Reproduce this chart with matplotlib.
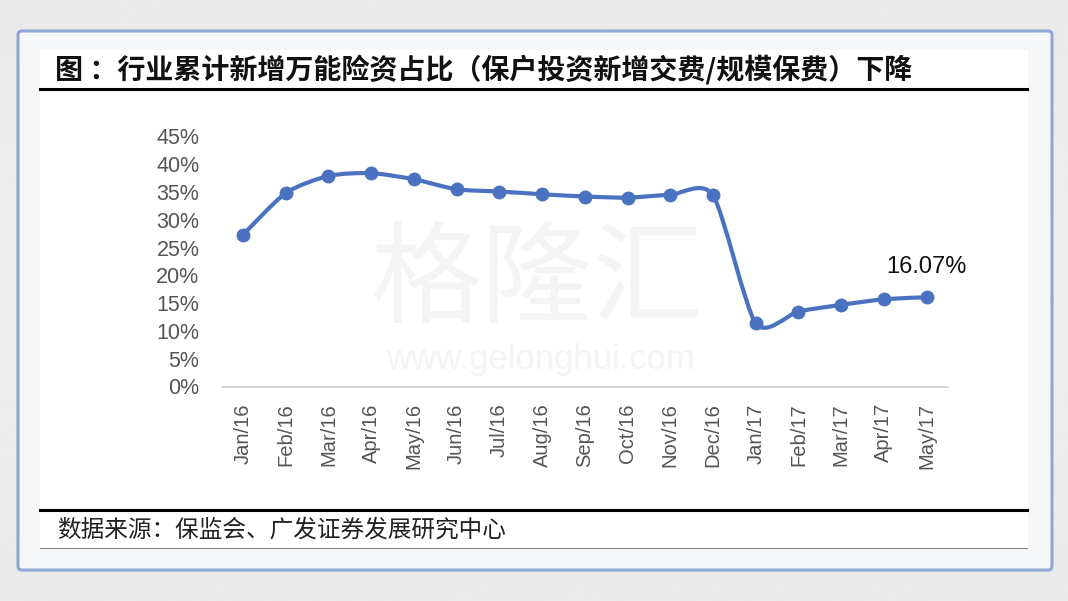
import matplotlib
matplotlib.use("Agg")
import matplotlib.pyplot as plt
from matplotlib.path import Path
from matplotlib.patches import PathPatch, FancyBboxPatch, Rectangle
from matplotlib.lines import Line2D
import numpy as np

plt.rcParams['font.family'] = ['Liberation Sans', 'Noto Sans CJK SC', 'DejaVu Sans']

title = "图 ：行业累计新增万能险资占比（保户投资新增交费/规模保费）下降"
source = "数据来源：保监会、广发证券发展研究中心"
months = ["Jan/16", "Feb/16", "Mar/16", "Apr/16", "May/16", "Jun/16", "Jul/16",
          "Aug/16", "Sep/16", "Oct/16", "Nov/16", "Dec/16", "Jan/17", "Feb/17",
          "Mar/17", "Apr/17", "May/17"]
values = [0.273, 0.348, 0.379, 0.384, 0.373, 0.355, 0.351, 0.346, 0.342,
          0.340, 0.345, 0.344, 0.114, 0.135, 0.147, 0.157, 0.1607]
yticks = [0.0, 0.05, 0.10, 0.15, 0.20, 0.25, 0.30, 0.35, 0.40, 0.45]
last_label = "16.07%"

W, H = 1068, 601
fig = plt.figure(figsize=(W / 100, H / 100), dpi=100)

# background
bg = fig.add_axes([0, 0, 1, 1])
bg.set_xlim(0, W)
bg.set_ylim(H, 0)
bg.axis('off')
grad = np.linspace(0, 1, 256).reshape(-1, 1)
bg.imshow(0.93 - 0.03 * np.abs(grad - 0.5), extent=[0, W, H, 0], cmap='gray',
          vmin=0, vmax=1, aspect='auto', zorder=0)
bg.add_patch(FancyBboxPatch((18, 31), 1034, 539, boxstyle="round,pad=0,rounding_size=4",
                            fc='#f5f7f9', ec='#8ea7d6', lw=2.2, zorder=1))
bg.add_patch(Rectangle((40, 50), 988, 498, fc='white', ec='none', zorder=2))
bg.add_line(Line2D([40, 1027], [89, 89], color='black', lw=2.2, zorder=3))
bg.add_line(Line2D([40, 1027], [510, 510], color='black', lw=2.2, zorder=3))
bg.add_line(Line2D([40, 1027], [548, 548], color='#888888', lw=0.8, zorder=3))
bg.text(55, 70, title, fontsize=20.2, fontweight='bold', family=['Noto Sans CJK SC'],
        va='center', ha='left', color='#111111', zorder=4)
bg.text(57, 530, source, fontsize=17, family=['Noto Sans CJK SC'],
        va='center', ha='left', color='#222222', zorder=4)
# watermark
bg.text(538, 282, "格隆汇", fontsize=80, family=['Noto Sans CJK SC'], color='#f4f4f4',
        ha='center', va='center', zorder=3)
bg.text(540, 360, "www.gelonghui.com", fontsize=25, color='#f4f4f4',
        ha='center', va='center', zorder=3)

# chart axes
ax = fig.add_axes([221.6 / W, (H - 386.5) / H, 726.4 / W, 250 / H])
ax.patch.set_alpha(0)
n = len(values)
x = np.arange(n)
ax.set_xlim(-0.5, n - 0.5)
ax.set_ylim(0, 0.45)

# smoothed line (cubic Bezier through the points)
pts = np.column_stack([x, values]).astype(float)
verts = [tuple(pts[0])]
codes = [Path.MOVETO]
k = 8.0
for i in range(n - 1):
    p0 = pts[i - 1] if i > 0 else pts[i]
    p1 = pts[i]
    p2 = pts[i + 1]
    p3 = pts[i + 2] if i + 2 < n else pts[i + 1]
    c1 = p1 + (p2 - p0) / k
    c2 = p2 - (p3 - p1) / k
    verts += [tuple(c1), tuple(c2), tuple(p2)]
    codes += [Path.CURVE4] * 3
ax.add_patch(PathPatch(Path(verts, codes), fc='none', ec='#4a72c0', lw=3.0,
                       capstyle='round', joinstyle='round', zorder=3))
ax.plot(x, values, ls='none', marker='o', ms=9, color='#4a72c0', zorder=4)

ax.annotate(last_label, (x[-1], values[-1]), xytext=(0, 14), textcoords='offset points',
            ha='center', va='bottom', fontsize=17, color='#111111')

ax.set_yticks(yticks)
ax.set_yticklabels([f"{int(round(v * 100))}%" for v in yticks], fontsize=15.5, color='#555555')
ax.set_xticks(x)
ax.set_xticklabels(months, rotation=90, fontsize=14.5, color='#555555')
ax.tick_params(axis='both', length=0)
ax.tick_params(axis='y', pad=16)
ax.tick_params(axis='x', pad=12)
for s in ['top', 'right', 'left']:
    ax.spines[s].set_visible(False)
ax.spines['bottom'].set_color('#d0d0d0')
ax.spines['bottom'].set_linewidth(1.2)

fig.savefig("out.png", dpi=100)
